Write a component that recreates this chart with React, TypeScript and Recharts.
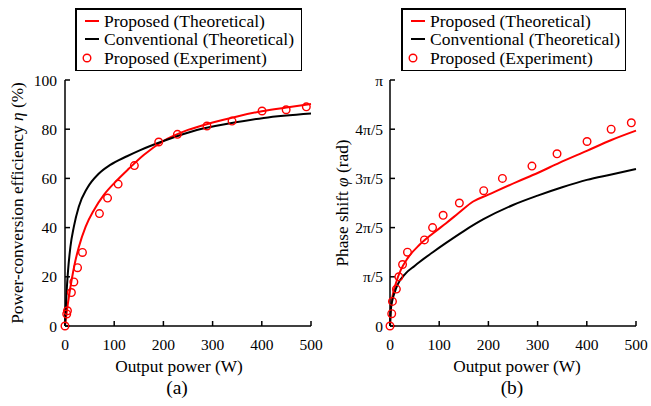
import React from 'react';
import { ComposedChart, Line, Scatter, XAxis, YAxis, Legend, Label } from 'recharts';

const FONT = '"Liberation Serif", "Times New Roman", Times, serif';
const RED = '#ff0000';

// shared output power axis
const powerTicks = [0, 100, 200, 300, 400, 500];

// measured points (same power steps for both panels)
const expPower = [0, 3.5, 5, 13, 18, 25.5, 35.5, 70, 86.5, 108, 141, 190.5, 228.5, 288.5, 339.5, 400.5, 449.5, 490.5];
const expEff = [0, 4.9, 6.2, 13.6, 17.9, 23.7, 29.9, 45.7, 52, 57.7, 65.2, 74.8, 77.9, 81.3, 83.3, 87.4, 87.9, 89.1];
// phase in units of pi/5
const expPhase = [0, 0.25, 0.5, 0.75, 1, 1.25, 1.5, 1.75, 2, 2.25, 2.5, 2.75, 3, 3.25, 3.5, 3.75, 4, 4.13];

// (a) efficiency curves
const propEffPower = [0, 4, 8, 13.5, 20, 28, 42, 59, 79, 103, 130, 160, 200, 250, 300, 350, 400, 450, 500];
const propEff = [0, 6.5, 12, 18.7, 25.5, 32, 40.4, 47.2, 53.3, 58.7, 64, 69.5, 75.2, 79.7, 82.7, 85.2, 87.3, 88.8, 90.2];
const convEffPower = [0, 1, 3, 6, 11, 18, 28, 45, 69, 92, 126, 153, 200, 268, 336, 404, 500];
const convEff = [0, 5, 13, 22, 32.2, 40.4, 48.5, 56, 62, 65.5, 69, 71.5, 75.2, 79.7, 82.4, 84.6, 86.4];

// (b) phase curves, units of pi/5
const propPhasePower = [0, 1.5, 5, 12, 22, 36, 60, 87, 114, 140, 169, 200, 258, 300, 345, 400, 450, 500];
const propPhase = [0, 0.33, 0.6, 0.87, 1.14, 1.38, 1.65, 1.88, 2.09, 2.3, 2.53, 2.67, 2.93, 3.11, 3.32, 3.56, 3.78, 3.97];
const convPhasePower = [0, 2, 5, 10, 15, 32, 50, 60, 87, 114, 150, 190, 250, 300, 350, 400, 450, 500];
const convPhase = [0, 0.35, 0.53, 0.7, 0.83, 1.07, 1.22, 1.3, 1.5, 1.69, 1.93, 2.17, 2.46, 2.65, 2.82, 2.97, 3.08, 3.19];

const effTicks = [0, 20, 40, 60, 80, 100];
const phaseTicks = [0, 1, 2, 3, 4, 5];
const phaseTickLabels = ['0', 'π/5', '2π/5', '3π/5', '4π/5', 'π'];

const seriesNames = ['Proposed (Theoretical)', 'Conventional (Theoretical)', 'Proposed (Experiment)'];

const zip = (xs: number[], ys: number[]) => xs.map((x, i) => ({ x, y: ys[i] }));

const axisStroke = { stroke: '#000', strokeWidth: 1.5 };
const tickFont = { fill: '#000', fontSize: 15.5, fontFamily: FONT };

const LegendRows = ({ payload }: any) => {
  const items = [...(payload || [])].sort(
    (a: any, b: any) => seriesNames.indexOf(a.value) - seriesNames.indexOf(b.value)
  );
  return (
    <div style={{ fontFamily: FONT, fontSize: 17.5, lineHeight: '18.4px', color: '#000', paddingTop: 3.8 }}>
      {items.map((p: any) => (
        <div key={p.value} style={{ display: 'flex', alignItems: 'center', height: 18.4, whiteSpace: 'nowrap' }}>
          <svg width={29} height={18} style={{ flex: 'none' }}>
            {p.type === 'circle' ? (
              <circle cx={12} cy={9} r={3.8} fill="none" stroke={RED} strokeWidth={1.4} />
            ) : (
              <line x1={10} x2={24} y1={9} y2={9} stroke={p.color} strokeWidth={2} />
            )}
          </svg>
          <span>{p.value}</span>
        </div>
      ))}
    </div>
  );
};

// legend frame made of four filled strips
const Frame = ({ left, top, width, height }: { left: number; top: number; width: number; height: number }) => {
  const t = 1.5;
  const bar = (l: number, tp: number, w: number, h: number, k: string) => (
    <div key={k} style={{ position: 'absolute', left: l, top: tp, width: w, height: h, backgroundColor: '#000' }} />
  );
  return (
    <>
      {bar(left, top, width, t, 't')}
      {bar(left, top + height - t, width, t, 'b')}
      {bar(left, top, t, height, 'l')}
      {bar(left + width - t, top, t, height, 'r')}
    </>
  );
};

const Ring = (props: any) => (
  <circle cx={props.cx} cy={props.cy} r={3.8} fill="none" stroke={RED} strokeWidth={1.4} />
);

interface PanelProps {
  left: number;
  width: number;
  marginRight: number;
  yWidth: number;
  yDomain: number[];
  yTicks: number[];
  yFormat?: (v: number) => string;
  yTickMargin: number;
  yLabel: React.ReactNode;
  yLabelX: number;
  titleX: number;
  tag: string;
  tagX: number;
  legendLeft: number;
  legendWidth: number;
  prop: { x: number; y: number }[];
  conv: { x: number; y: number }[];
  exp: { x: number; y: number }[];
}

function Panel(p: PanelProps) {
  return (
    <div style={{ position: 'absolute', left: p.left, top: 0, width: p.width, height: 406 }}>
      <ComposedChart width={p.width} height={406} margin={{ top: 80, right: p.marginRight, bottom: 20, left: 5 }}>
        <XAxis
          xAxisId="b"
          dataKey="x"
          type="number"
          domain={[0, 500]}
          ticks={powerTicks}
          interval={0}
          height={60}
          tickSize={-5}
          tickMargin={18}
          axisLine={axisStroke}
          tickLine={axisStroke}
          tick={tickFont}
        >
          <Label
            content={() => (
              <g fontFamily={FONT} fill="#000">
                <text x={p.titleX} y={372} textAnchor="middle" fontSize={17.3}>
                  Output power (W)
                </text>
                <text x={p.tagX} y={394} textAnchor="middle" fontSize={19.5}>
                  {p.tag}
                </text>
              </g>
            )}
          />
        </XAxis>
        <XAxis
          xAxisId="t"
          orientation="top"
          dataKey="x"
          type="number"
          domain={[0, 500]}
          ticks={powerTicks}
          interval={0}
          height={0}
          tickSize={-5}
          tick={false}
          axisLine={axisStroke}
          tickLine={axisStroke}
        />
        <YAxis
          yAxisId="l"
          dataKey="y"
          type="number"
          domain={p.yDomain}
          ticks={p.yTicks}
          interval={0}
          width={p.yWidth}
          tickSize={-5}
          tickMargin={p.yTickMargin}
          tickFormatter={p.yFormat}
          axisLine={axisStroke}
          tickLine={axisStroke}
          tick={tickFont}
        >
          <Label
            content={() => (
              <text
                x={p.yLabelX}
                y={203}
                transform={`rotate(-90 ${p.yLabelX} 203)`}
                textAnchor="middle"
                dominantBaseline="central"
                fontFamily={FONT}
                fontSize={17.3}
                fill="#000"
              >
                {p.yLabel}
              </text>
            )}
          />
        </YAxis>
        <YAxis
          yAxisId="r"
          orientation="right"
          dataKey="y"
          type="number"
          domain={p.yDomain}
          ticks={p.yTicks}
          interval={0}
          width={0}
          tickSize={-5}
          tick={false}
          axisLine={axisStroke}
          tickLine={axisStroke}
        />
        <Legend
          layout="vertical"
          verticalAlign="middle"
          align="center"
          width={p.legendWidth}
          height={63}
          wrapperStyle={{ left: p.legendLeft, top: 8 }}
          content={<LegendRows />}
        />
        <Line
          xAxisId="b"
          yAxisId="l"
          data={p.prop}
          dataKey="y"
          name={seriesNames[0]}
          type="monotone"
          stroke={RED}
          strokeWidth={2}
          dot={false}
          legendType="line"
          isAnimationActive={false}
        />
        <Line
          xAxisId="b"
          yAxisId="l"
          data={p.conv}
          dataKey="y"
          name={seriesNames[1]}
          type="monotone"
          stroke="#000"
          strokeWidth={2}
          dot={false}
          legendType="line"
          isAnimationActive={false}
        />
        <Scatter
          xAxisId="b"
          yAxisId="l"
          data={p.exp}
          dataKey="y"
          name={seriesNames[2]}
          fill={RED}
          shape={<Ring />}
          legendType="circle"
          isAnimationActive={false}
        />
      </ComposedChart>
    </div>
  );
}

export default function App() {
  return (
    <div style={{ position: 'absolute', left: 0, top: 0, width: 651, height: 406, background: '#fff', overflow: 'hidden' }}>
      <Panel
        left={0}
        width={330}
        marginRight={19}
        yWidth={60}
        yDomain={[0, 100]}
        yTicks={effTicks}
        yTickMargin={13}
        yLabel={
          <>
            Power-conversion efficiency <tspan fontStyle="italic">η</tspan> (%)
          </>
        }
        yLabelX={17}
        titleX={179}
        tag="(a)"
        tagX={177}
        legendLeft={75}
        legendWidth={227}
        prop={zip(propEffPower, propEff)}
        conv={zip(convEffPower, convEff)}
        exp={zip(expPower, expEff)}
      />
      <Panel
        left={330}
        width={321}
        marginRight={15}
        yWidth={55}
        yDomain={[0, 5]}
        yTicks={phaseTicks}
        yFormat={(v: number) => phaseTickLabels[v] ?? ''}
        yTickMargin={12}
        yLabel={
          <>
            Phase shift <tspan fontStyle="italic">φ</tspan> (rad)
          </>
        }
        yLabelX={12}
        titleX={187}
        tag="(b)"
        tagX={182}
        legendLeft={71}
        legendWidth={225}
        prop={zip(propPhasePower, propPhase)}
        conv={zip(convPhasePower, convPhase)}
        exp={zip(expPower, expPhase)}
      />
      <div style={{ position: 'absolute', left: 0, top: 0, width: 651, height: 406, pointerEvents: 'none', zIndex: 10 }}>
        <Frame left={75} top={8} width={227} height={63} />
        <Frame left={401} top={8} width={225} height={63} />
      </div>
    </div>
  );
}
